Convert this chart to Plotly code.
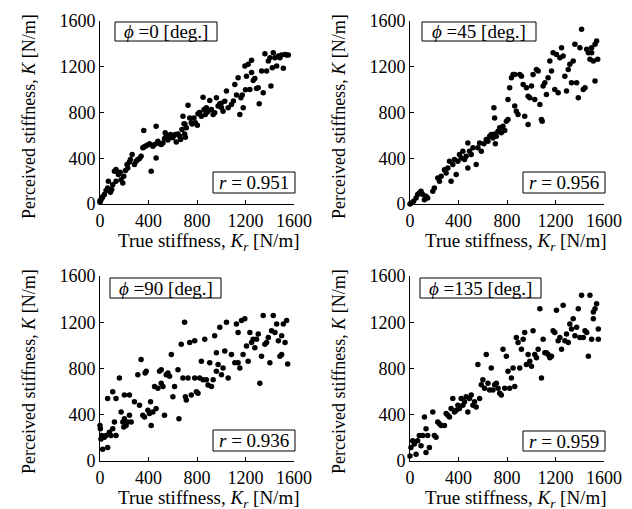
import plotly.graph_objects as go

# ---------------- data ----------------
x0 = [0,0,8,17,22,36,50,63,69,86,97,105,119,132,132,152,166,174,188,196,210,223,229,243,265,251,284,298,312,326,339,353,361,372,361,389,408,422,436,450,463,463,477,491,505,519,532,538,546,555,566,582,593,610,621,629,643,657,665,676,684,693,698,704,712,726,740,753,775,786,803,808,822,836,850,858,869,877,891,905,919,933,946,960,974,988,1002,1015,1029,1043,1057,1084,1112,1126,1139,1153,1162,1173,1181,1195,1208,1222,1236,1250,1264,1277,1291,1305,1313,1333,1346,1360,1374,1388,1402,1410,1421,1429,1443,1457,1471,1484,1498,1512,1526,1540,1553,560,600,700,760,820,880,1000,1100,1200,1250]
y0 = [15,29,38,53,64,82,117,140,199,102,126,169,286,301,199,257,277,213,184,242,292,345,315,368,432,388,345,374,388,397,418,491,496,505,642,514,526,286,505,520,403,680,549,526,520,534,572,622,593,602,578,607,593,599,607,543,613,593,564,651,768,701,613,584,666,864,753,710,753,710,689,788,797,768,934,826,783,841,812,905,826,783,797,929,856,876,841,812,899,987,841,870,1045,952,1104,783,929,952,841,1206,1118,1221,1002,1256,1080,1098,1010,1016,876,1162,972,1314,1162,1250,1279,1031,1191,1323,1279,1206,1294,1279,1302,1186,1308,1302,1302,560,580,700,700,800,800,880,900,1000,1150]

x45 = [0,8,30,50,63,77,91,105,119,132,146,188,201,229,243,257,284,298,312,326,339,353,367,381,395,408,422,436,450,463,477,491,505,519,477,546,560,574,588,610,629,643,657,670,684,698,704,698,692,712,726,740,753,767,781,795,808,808,822,836,850,864,877,864,891,905,919,933,946,960,974,974,988,1002,1015,1029,1043,1057,1071,1084,1090,1098,1112,1125,1139,1153,1167,1180,1194,1208,1222,1236,1250,1263,1277,1291,1305,1318,1332,1346,1360,1374,1388,1401,1415,1429,1443,1457,1471,1484,1498,1512,1526,1539,1548,1526,1498]
y45 = [0,9,23,53,82,96,111,82,38,67,53,111,140,228,199,242,300,272,315,374,199,345,388,257,374,432,403,461,388,418,315,461,432,491,534,345,491,534,461,526,564,549,593,607,578,613,526,753,841,593,637,666,622,680,643,724,739,914,1016,1104,1133,856,812,1133,783,1133,1118,1045,768,1016,695,943,928,1031,1133,914,1177,1162,870,739,724,1031,1060,958,1104,1250,1162,1323,1002,1308,972,1279,1367,1294,1118,987,1177,1221,1060,1250,1396,1060,928,1367,1527,1002,1016,1352,1323,1265,1367,1250,1396,1425,1265,1075,1323]

x90 = [0,3,8,14,22,36,50,63,77,91,105,119,132,63,105,132,160,174,188,196,201,215,229,243,257,201,243,284,312,326,339,353,367,372,381,395,408,417,422,436,450,463,477,491,505,519,505,532,546,560,574,588,601,615,643,651,670,684,698,704,712,726,740,753,781,781,795,808,822,836,850,864,877,891,905,919,933,946,960,960,974,988,1002,1015,1029,1043,1057,1084,1112,1125,1139,1139,1153,1167,1180,1194,1208,1222,1236,1250,1263,1277,1291,1305,1318,1332,1346,1360,1374,1388,1401,1415,1429,1443,1457,1471,1484,1498,1512,1526,1539,1548,1498]
y90 = [307,278,190,220,102,205,220,117,249,220,278,337,220,541,600,541,717,424,337,293,366,307,337,395,337,571,571,512,746,483,878,395,380,761,776,439,410,512,307,424,644,454,630,776,673,644,790,395,746,761,732,922,556,644,790,366,1010,717,1200,556,527,717,1024,571,717,1039,600,585,717,863,702,1054,702,658,849,644,702,1083,776,937,834,1156,746,805,951,1200,717,922,849,1185,1112,849,805,1215,922,1230,995,863,1112,1024,1054,980,1054,1098,673,907,1259,1010,1024,1068,849,1127,1259,1112,1185,1039,907,1083,1185,1024,1215,840,922]

x135 = [0,8,22,36,50,63,77,91,105,119,132,146,160,132,188,201,215,229,243,257,284,298,312,326,339,353,367,381,395,408,422,436,450,463,477,491,505,519,532,546,560,574,588,601,615,629,643,657,670,684,698,712,726,740,753,767,781,795,808,822,836,850,864,877,891,905,919,933,946,960,974,988,1002,1015,1029,1043,1057,1071,1084,1098,1112,1125,1139,1153,1167,1180,1194,1208,1222,1236,1250,1263,1277,1291,1305,1318,1332,1346,1360,1374,1388,1401,1415,1429,1443,1457,1471,1484,1498,1512,1526,1539,1553,1553,1512]
y135 = [44,117,176,146,59,176,220,132,220,381,73,220,117,278,424,220,205,337,322,307,307,410,395,380,454,541,424,439,483,454,541,483,512,556,424,541,571,483,512,468,834,541,659,702,629,922,673,615,805,615,659,673,629,585,571,966,629,907,776,629,717,805,644,1068,1024,805,966,1054,1112,834,922,863,819,1127,922,893,966,1317,717,1054,937,937,922,893,907,1127,1112,1303,1039,1068,966,1347,1039,1098,1024,1185,1141,1230,1083,1156,1317,1068,1434,1068,1127,1112,907,1434,1054,1230,1317,1361,1141,1054,1288]

series = [(x0, y0), (x45, y45), (x90, y90), (x135, y135)]
phi_labels = ["0", "45", "90", "135"]
r_labels = ["0.951", "0.956", "0.936", "0.959"]
tick_vals = [0, 400, 800, 1200, 1600]
tick_text = ["0", "400", "800", "1200", "1600"]

W, H = 632, 509
FONT = "Liberation Serif"

def px(xp):
    return xp / W

def py(yp):
    return 1 - yp / H

# panel geometry in pixels: (left, right, top, bottom)
panels = [(92, 286, 13, 196), (402, 596, 13, 196), (92, 286, 268, 453), (402, 596, 268, 453)]
xlabel_standoff = [0, 0, 0, 0]
phi_boxes = [(107, 209, 14, 33), (414, 528, 14, 33), (102, 213, 270, 290), (412, 533, 270, 290)]
r_boxes = [(205, 287, 164, 185), (515, 597, 164, 185), (205, 287, 422, 443), (515, 597, 423, 443)]
ytitle_pos = [(21, 109), (331, 109), (21, 364), (331, 364)]
xtitle_pos = [(201, 234), (508, 234), (201, 491), (508, 491)]

fig = go.Figure()
layout = dict(
    template="none",
    width=W, height=H, autosize=False,
    margin=dict(l=0, r=0, t=0, b=0, pad=0),
    paper_bgcolor="white", plot_bgcolor="white",
    showlegend=False,
    font=dict(family=FONT, size=18, color="black"),
)
shapes = []
annotations = []

for i, ((xs, ys), (l, r, t, b)) in enumerate(zip(series, panels)):
    n = i + 1
    xa = "x" if n == 1 else f"x{n}"
    ya = "y" if n == 1 else f"y{n}"
    fig.add_trace(go.Scatter(
        x=xs, y=ys, mode="markers", xaxis=xa, yaxis=ya,
        marker=dict(color="black", size=5.5, line=dict(width=0)),
        cliponaxis=False, hoverinfo="skip"))
    axcommon = dict(range=[0, 1600], tickvals=tick_vals, ticktext=tick_text,
                    ticks="inside", ticklen=4, tickwidth=1, tickcolor="black",
                    showline=True, linecolor="black", linewidth=1,
                    showgrid=False, zeroline=False, fixedrange=True, automargin=False,
                    tickfont=dict(family=FONT, size=18, color="black"))
    layout["xaxis" if n == 1 else f"xaxis{n}"] = dict(
        axcommon, domain=[px(l), px(r)], anchor=ya, ticklabelstandoff=xlabel_standoff[i])
    layout["yaxis" if n == 1 else f"yaxis{n}"] = dict(
        axcommon, domain=[py(b), py(t)], anchor=xa, ticklabelstandoff=0)

    for (bl, br, bt, bb) in (phi_boxes[i], r_boxes[i]):
        shapes.append(dict(type="rect", xref="paper", yref="paper",
                           x0=px(bl), x1=px(br), y0=py(bb), y1=py(bt),
                           line=dict(color="black", width=1), fillcolor="white",
                           layer="above"))
    bl, br, bt, bb = phi_boxes[i]
    annotations.append(dict(xref="paper", yref="paper", x=px((bl + br) / 2), y=py((bt + bb) / 2),
                            text=f"<i>ϕ</i> ={phi_labels[i]} [deg.]", showarrow=False,
                            xanchor="center", yanchor="middle",
                            font=dict(family=FONT, size=19, color="black")))
    bl, br, bt, bb = r_boxes[i]
    annotations.append(dict(xref="paper", yref="paper", x=px((bl + br) / 2), y=py((bt + bb) / 2),
                            text=f"<i>r</i> = {r_labels[i]}", showarrow=False,
                            xanchor="center", yanchor="middle",
                            font=dict(family=FONT, size=19, color="black")))
    yx, yy = ytitle_pos[i]
    annotations.append(dict(xref="paper", yref="paper", x=px(yx), y=py(yy),
                            text="Perceived stiffness, <i>K</i> [N/m]", showarrow=False,
                            textangle=-90, xanchor="center", yanchor="middle",
                            font=dict(family=FONT, size=18, color="black")))
    xx, xy = xtitle_pos[i]
    annotations.append(dict(xref="paper", yref="paper", x=px(xx), y=py(xy),
                            text="True stiffness, <i>K</i><sub><i>r</i></sub> [N/m]", showarrow=False,
                            xanchor="center", yanchor="middle",
                            font=dict(family=FONT, size=19, color="black")))

layout["shapes"] = shapes
layout["annotations"] = annotations
fig.update_layout(**layout)
fig.write_html("out.html")
